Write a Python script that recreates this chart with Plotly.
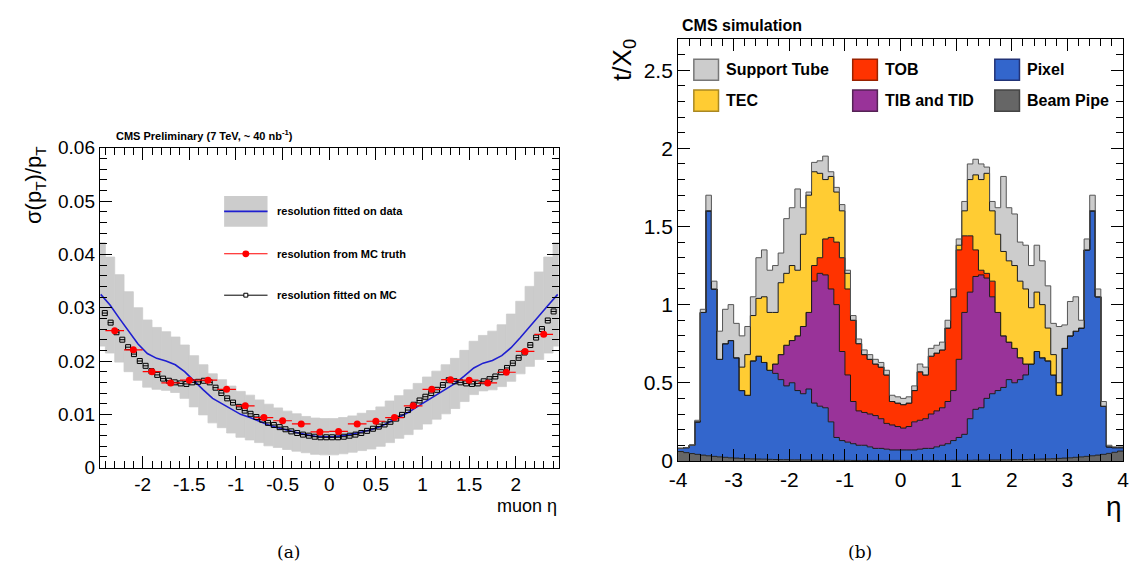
import numpy as np
import plotly.graph_objects as go

W, H = 1135, 575
FONT = "Liberation Sans, Arial, Helvetica, sans-serif"
SERIF = "DejaVu Serif, Liberation Serif, serif"

# ======================= Panel (a): muon pT resolution =======================
band_centers = np.round(np.arange(-2.45, 2.451, 0.1), 2)          # 50 bins of 0.1
fit_data = [0.0325, 0.0305, 0.0280, 0.0255, 0.0232, 0.0214, 0.0205, 0.0200, 0.0193, 0.0180,
            0.0162, 0.0146, 0.0130, 0.0120, 0.0109, 0.0100, 0.0094, 0.0087, 0.0080, 0.0075,
            0.0070, 0.0066, 0.0062, 0.0059, 0.0058,
            0.0058, 0.0060, 0.0063, 0.0067, 0.0071, 0.0077, 0.0086, 0.0095, 0.0104, 0.0115,
            0.0126, 0.0136, 0.0147, 0.0158, 0.0172, 0.0187, 0.0196, 0.0201, 0.0210, 0.0225,
            0.0244, 0.0265, 0.0285, 0.0305, 0.0325]
band_lo = [0.0228, 0.0215, 0.0198, 0.0180, 0.0164, 0.0151, 0.0147, 0.0145, 0.0141, 0.0130,
           0.0114, 0.0099, 0.0084, 0.0075, 0.0065, 0.0057, 0.0052, 0.0047, 0.0041, 0.0038,
           0.0034, 0.0031, 0.0028, 0.0025, 0.0024,
           0.0024, 0.0026, 0.0029, 0.0032, 0.0035, 0.0040, 0.0047, 0.0055, 0.0062, 0.0072,
           0.0082, 0.0091, 0.0101, 0.0111, 0.0124, 0.0137, 0.0144, 0.0146, 0.0152, 0.0162,
           0.0176, 0.0190, 0.0203, 0.0215, 0.0228]
band_hi = [0.0422, 0.0395, 0.0362, 0.0330, 0.0300, 0.0277, 0.0263, 0.0255, 0.0245, 0.0230,
           0.0210, 0.0193, 0.0176, 0.0165, 0.0153, 0.0143, 0.0136, 0.0127, 0.0119, 0.0112,
           0.0106, 0.0101, 0.0096, 0.0093, 0.0092,
           0.0092, 0.0094, 0.0097, 0.0102, 0.0107, 0.0114, 0.0125, 0.0135, 0.0146, 0.0158,
           0.0170, 0.0181, 0.0193, 0.0205, 0.0220, 0.0237, 0.0248, 0.0256, 0.0268, 0.0288,
           0.0312, 0.0340, 0.0367, 0.0395, 0.0422]

mc_truth_eta = [-2.3, -2.1, -1.9, -1.7, -1.5, -1.3, -1.1, -0.9, -0.7, -0.5, -0.3, -0.1,
                0.1, 0.3, 0.5, 0.7, 0.9, 1.1, 1.3, 1.5, 1.7, 1.9, 2.1, 2.3]
mc_truth = [0.0257, 0.0221, 0.0180, 0.0159, 0.0164, 0.0164, 0.0147, 0.0116, 0.0094, 0.0088, 0.0082, 0.0067,
            0.0068, 0.0082, 0.0087, 0.0094, 0.0116, 0.0147, 0.0165, 0.0164, 0.0159, 0.0179, 0.0218, 0.0250]
mc_truth_xerr = 0.1

mc_fit_eta = np.arange(-2.40625, 2.41, 0.0625)                        # 78 points
mc_fit = [0.0290, 0.0272, 0.0254, 0.0240, 0.0226, 0.0213, 0.0200, 0.0191, 0.0181, 0.0174,
          0.0167, 0.0163, 0.0160, 0.0158, 0.0157, 0.0160, 0.0161, 0.0163, 0.0160, 0.0150,
          0.0140, 0.0130, 0.0122, 0.0114, 0.0107, 0.0101, 0.0095, 0.0090, 0.0084, 0.0080,
          0.0076, 0.0072, 0.0068, 0.0065, 0.0062, 0.0060, 0.0058, 0.0057, 0.0057,
          0.0057, 0.0057, 0.0058, 0.0060, 0.0062, 0.0065, 0.0069, 0.0073, 0.0077, 0.0081,
          0.0086, 0.0092, 0.0099, 0.0108, 0.0118, 0.0126, 0.0133, 0.0140, 0.0146, 0.0155,
          0.0164, 0.0162, 0.0160, 0.0158, 0.0157, 0.0158, 0.0162, 0.0166, 0.0171, 0.0179,
          0.0187, 0.0196, 0.0206, 0.0216, 0.0230, 0.0244, 0.0260, 0.0276, 0.0293]

a_xticks = [-2, -1.5, -1, -0.5, 0, 0.5, 1, 1.5, 2]
a_xticklabels = ["-2", "-1.5", "-1", "-0.5", "0", "0.5", "1", "1.5", "2"]
a_yticks = [0, 0.01, 0.02, 0.03, 0.04, 0.05, 0.06]
a_yticklabels = ["0", "0.01", "0.02", "0.03", "0.04", "0.05", "0.06"]

# ======================= Panel (b): material budget t/X0 =======================
# stacked (cumulative) level of each material, bins of 0.1 in eta from -4 to 4
eta_edges = np.round(np.linspace(-4.0, 4.0, 81), 2)
cum_beam_pipe = [0.060, 0.053, 0.047, 0.042, 0.037, 0.033, 0.029, 0.026, 0.023, 0.020,
                 0.018, 0.016, 0.014, 0.013, 0.012, 0.011, 0.010, 0.009, 0.008, 0.008,
                 0.007, 0.007, 0.006, 0.006, 0.005, 0.005, 0.005, 0.004, 0.004, 0.004,
                 0.004, 0.003, 0.003, 0.003, 0.003, 0.003, 0.003, 0.003, 0.003, 0.003,
                 0.003, 0.003, 0.003, 0.003, 0.003, 0.003, 0.003, 0.003, 0.003, 0.004,
                 0.004, 0.004, 0.004, 0.005, 0.005, 0.005, 0.006, 0.006, 0.007, 0.007,
                 0.008, 0.008, 0.009, 0.010, 0.011, 0.012, 0.013, 0.014, 0.016, 0.018,
                 0.020, 0.023, 0.026, 0.029, 0.033, 0.037, 0.042, 0.048, 0.055, 0.063]
cum_pixel = [0.080, 0.085, 0.100, 0.250, 0.950, 1.600, 1.100, 0.650, 0.750, 0.770,
             0.660, 0.450, 0.420, 0.640, 0.670, 0.630, 0.580, 0.560, 0.520, 0.480,
             0.500, 0.450, 0.430, 0.460, 0.370, 0.350, 0.340, 0.250, 0.150, 0.130,
             0.120, 0.110, 0.100, 0.100, 0.090, 0.080, 0.080, 0.075, 0.070, 0.070,
             0.070, 0.070, 0.070, 0.075, 0.080, 0.080, 0.090, 0.100, 0.110, 0.130,
             0.150, 0.170, 0.270, 0.330, 0.340, 0.400, 0.430, 0.450, 0.470, 0.520,
             0.500, 0.520, 0.550, 0.620, 0.700, 0.660, 0.640, 0.550, 0.420, 0.720,
             0.800, 0.830, 0.850, 1.350, 1.600, 1.050, 0.350, 0.090, 0.085, 0.085]
cum_tib_tid = [0.080, 0.085, 0.100, 0.250, 0.950, 1.600, 1.100, 0.650, 0.750, 0.770,
               0.660, 0.450, 0.420, 0.640, 0.670, 0.630, 0.580, 0.620, 0.680, 0.740,
               0.770, 0.800, 0.860, 0.950, 1.150, 1.200, 1.190, 1.100, 1.000, 0.700,
               0.550, 0.380, 0.320, 0.310, 0.300, 0.290, 0.270, 0.240, 0.230, 0.220,
               0.210, 0.220, 0.250, 0.260, 0.270, 0.300, 0.320, 0.340, 0.380, 0.450,
               0.650, 0.950, 1.080, 1.180, 1.190, 1.170, 1.050, 0.950, 0.800, 0.760,
               0.720, 0.660, 0.620, 0.620, 0.700, 0.660, 0.640, 0.550, 0.420, 0.720,
               0.800, 0.830, 0.850, 1.350, 1.600, 1.050, 0.350, 0.090, 0.085, 0.085]
cum_tob = [0.080, 0.085, 0.100, 0.250, 0.950, 1.600, 1.100, 0.650, 0.750, 0.770,
           0.660, 0.450, 0.420, 0.640, 0.670, 0.630, 0.580, 0.620, 0.680, 0.740,
           0.770, 0.800, 0.860, 0.950, 1.250, 1.300, 1.420, 1.430, 1.400, 1.300,
           1.100, 0.900, 0.750, 0.680, 0.650, 0.620, 0.600, 0.550, 0.380, 0.370,
           0.360, 0.370, 0.450, 0.570, 0.550, 0.670, 0.690, 0.710, 0.850, 1.050,
           1.350, 1.440, 1.440, 1.350, 1.220, 1.200, 1.150, 0.950, 0.800, 0.760,
           0.720, 0.660, 0.620, 0.620, 0.700, 0.660, 0.640, 0.550, 0.420, 0.720,
           0.800, 0.830, 0.850, 1.350, 1.600, 1.050, 0.350, 0.090, 0.085, 0.085]
cum_tec = [0.080, 0.085, 0.100, 0.250, 0.950, 1.600, 1.100, 0.650, 0.750, 0.770,
           0.660, 0.600, 0.680, 0.930, 1.040, 1.050, 0.950, 0.950, 1.140, 1.200,
           1.250, 1.220, 1.450, 1.700, 1.850, 1.840, 1.800, 1.820, 1.720, 1.600,
           1.200, 0.900, 0.750, 0.680, 0.650, 0.620, 0.600, 0.550, 0.380, 0.370,
           0.360, 0.370, 0.450, 0.570, 0.550, 0.670, 0.690, 0.710, 0.850, 1.050,
           1.380, 1.600, 1.800, 1.830, 1.800, 1.840, 1.600, 1.450, 1.340, 1.280,
           1.250, 1.150, 1.100, 0.980, 1.080, 1.000, 0.850, 0.680, 0.500, 0.720,
           0.800, 0.830, 0.850, 1.350, 1.600, 1.050, 0.350, 0.090, 0.085, 0.085]
cum_support_tube = [0.080, 0.085, 0.100, 0.260, 0.970, 1.700, 1.150, 0.830, 0.970, 1.000,
                    0.880, 0.800, 0.860, 1.050, 1.300, 1.350, 1.220, 1.250, 1.330, 1.550,
                    1.620, 1.740, 1.620, 1.720, 1.910, 1.920, 1.950, 1.850, 1.750, 1.640,
                    1.220, 0.930, 0.780, 0.710, 0.680, 0.650, 0.630, 0.580, 0.420, 0.410,
                    0.400, 0.410, 0.480, 0.620, 0.600, 0.720, 0.740, 0.760, 0.900, 1.100,
                    1.420, 1.660, 1.900, 1.930, 1.900, 1.880, 1.660, 1.620, 1.820, 1.620,
                    1.580, 1.400, 1.380, 1.250, 1.380, 1.280, 1.120, 0.880, 0.860, 0.870,
                    1.020, 1.050, 0.900, 1.420, 1.700, 1.100, 0.380, 0.100, 0.090, 0.090]

b_xticks = [-4, -3, -2, -1, 0, 1, 2, 3, 4]
b_xticklabels = ["-4", "-3", "-2", "-1", "0", "1", "2", "3", "4"]
b_yticks = [0, 0.5, 1, 1.5, 2, 2.5]
b_yticklabels = ["0", "0.5", "1", "1.5", "2", "2.5"]

materials = ["Beam Pipe", "Pixel", "TIB and TID", "TOB", "TEC", "Support Tube"]
levels = [cum_beam_pipe, cum_pixel, cum_tib_tid, cum_tob, cum_tec, cum_support_tube]
fill_colors = ["#666666", "#3366cc", "#993399", "#ff3300", "#ffcc33", "#cccccc"]
edge_colors = ["#222222", "#1a1a1a", "#1a1a1a", "#1a1a1a", "#1a1a1a", "#555555"]


def px(x):
    return x / W


def py(y):
    return 1 - y / H


fig = go.Figure()

# ---- panel (b) stacked histograms ----
for i, (name, lev) in enumerate(zip(materials, levels)):
    yy = list(lev) + [lev[-1]]
    fig.add_trace(go.Scatter(
        x=eta_edges, y=yy, mode="lines", line=dict(shape="hv", color=edge_colors[i], width=1),
        fill="tozeroy" if i == 0 else "tonexty", fillcolor=fill_colors[i],
        name=name, showlegend=False, xaxis="x2", yaxis="y2", hoverinfo="skip"))

# ---- panel (a) ----
fig.add_trace(go.Bar(
    x=band_centers, y=np.array(band_hi) - np.array(band_lo), base=band_lo, width=0.1,
    marker=dict(color="#cccccc", line=dict(width=0.8, color="#cccccc")), showlegend=False,
    xaxis="x", yaxis="y", name="band"))
fig.add_trace(go.Scatter(
    x=band_centers, y=fit_data, mode="lines", line=dict(color="#1f1fd0", width=1.6),
    showlegend=False, xaxis="x", yaxis="y", name="resolution fitted on data"))
fig.add_trace(go.Scatter(
    x=mc_fit_eta, y=mc_fit, mode="markers",
    marker=dict(symbol="square-open", size=5, color="black", line=dict(width=1)),
    error_x=dict(type="constant", value=0.03, width=0, thickness=1, color="black"),
    showlegend=False, xaxis="x", yaxis="y", name="resolution fitted on MC"))
fig.add_trace(go.Scatter(
    x=mc_truth_eta, y=mc_truth, mode="markers",
    marker=dict(symbol="circle", size=7, color="#ff0000"),
    error_x=dict(type="constant", value=mc_truth_xerr, width=0, thickness=1.2, color="#ff0000"),
    showlegend=False, xaxis="x", yaxis="y", name="resolution from MC truth"))

axis_common = dict(showgrid=False, zeroline=False, showline=True, linecolor="black", linewidth=1,
                   mirror="ticks", ticks="inside", tickcolor="black", ticklen=12, tickwidth=1,
                   ticklabeloverflow="allow",
                   tickfont=dict(family=FONT, size=19, color="black"))

fig.update_layout(
    margin=dict(l=0, r=0, t=0, b=0), autosize=True,
    paper_bgcolor="white", plot_bgcolor="white", barmode="overlay", showlegend=False,
    xaxis=dict(domain=[px(92), px(557)], range=[-2.46, 2.46], anchor="y",
               tickvals=a_xticks, ticktext=a_xticklabels,
               minor=dict(dtick=0.1, ticks="inside", ticklen=7, tickcolor="black"), **axis_common),
    yaxis=dict(domain=[py(475), py(143)], range=[0, 0.06], anchor="x",
               tickvals=a_yticks, ticktext=a_yticklabels,
               minor=dict(dtick=0.002, ticks="inside", ticklen=7, tickcolor="black"), **axis_common),
    xaxis2=dict(domain=[px(678), px(1129)], range=[-4, 4], anchor="y2",
                tickvals=b_xticks, ticktext=b_xticklabels,
                minor=dict(dtick=0.2, ticks="inside", ticklen=7, tickcolor="black"), **axis_common),
    yaxis2=dict(domain=[py(468), py(30)], range=[0, 2.7], anchor="x2",
                tickvals=b_yticks, ticktext=b_yticklabels,
                minor=dict(dtick=0.1, ticks="inside", ticklen=7, tickcolor="black"), **axis_common),
)
fig.update_layout(xaxis2_tickfont_size=21, yaxis2_tickfont_size=21)

ann = []
shapes = []


def text(x, y, s, size, xanchor="left", bold=False, angle=0, family=FONT):
    ann.append(dict(x=px(x), y=py(y), xref="paper", yref="paper", text=("<b>%s</b>" % s) if bold else s,
                    showarrow=False, xanchor=xanchor, yanchor="middle", textangle=angle,
                    font=dict(family=family, size=size, color="black")))


# panel (a) texts
text(106, 130, "CMS Preliminary (7 TeV, ~ 40 nb<sup>-1</sup>)", 11, bold=True)
text(27, 182, "σ(p<sub>T</sub>)/p<sub>T</sub>", 22, xanchor="center", angle=-90)
text(557, 515, "muon η", 18, xanchor="right")
text(283, 563, "(a)", 17, xanchor="center", family=SERIF)

# panel (a) legend
shapes.append(dict(type="rect", xref="paper", yref="paper", x0=px(218), x1=px(262), y0=py(225), y1=py(193),
                   fillcolor="#cccccc", line=dict(width=0)))
shapes.append(dict(type="line", xref="paper", yref="paper", x0=px(218), x1=px(262), y0=py(209), y1=py(209),
                   line=dict(color="#1f1fd0", width=1.6)))
shapes.append(dict(type="line", xref="paper", yref="paper", x0=px(218), x1=px(262), y0=py(253), y1=py(253),
                   line=dict(color="#ff0000", width=1.2)))
shapes.append(dict(type="circle", xref="paper", yref="paper", x0=px(236.5), x1=px(243.5), y0=py(256.5),
                   y1=py(249.5), fillcolor="#ff0000", line=dict(color="#ff0000", width=0)))
shapes.append(dict(type="line", xref="paper", yref="paper", x0=px(218), x1=px(262), y0=py(296), y1=py(296),
                   line=dict(color="black", width=1)))
shapes.append(dict(type="rect", xref="paper", yref="paper", x0=px(238), x1=px(242), y0=py(298), y1=py(294),
                   fillcolor="white", line=dict(color="black", width=1)))
text(270, 209, "resolution fitted on data", 11, bold=True)
text(270, 253, "resolution from MC truth", 11, bold=True)
text(270, 296, "resolution fitted on MC", 11, bold=True)

# panel (b) texts
text(680, 16, "CMS simulation", 16, bold=True)
text(622, 52, "t/X<sub>0</sub>", 26, xanchor="center", angle=-90)
text(1120, 515, "η", 28, xanchor="center")
text(862, 563, "(b)", 17, xanchor="center", family=SERIF)

# panel (b) legend
leg_entries = [("Support Tube", 694, 62, "#cccccc", "#777777"),
               ("TOB", 855, 62, "#ff3300", "#992200"),
               ("Pixel", 999, 62, "#3366cc", "#223377"),
               ("TEC", 694, 94, "#ffcc33", "#aa8822"),
               ("TIB and TID", 855, 94, "#993399", "#552255"),
               ("Beam Pipe", 999, 94, "#666666", "#444444")]
for name, x0, yc, fc, lc in leg_entries:
    shapes.append(dict(type="rect", xref="paper", yref="paper", x0=px(x0), x1=px(x0 + 25),
                       y0=py(yc + 11), y1=py(yc - 11), fillcolor=fc, line=dict(color=lc, width=1.5)))
    text(x0 + 31, yc, name, 16, bold=True)

fig.update_layout(annotations=ann, shapes=shapes)

# the figure div is pinned to the top-left corner of the 1135x575 window
fig.write_html("out.html", config={"displayModeBar": False, "responsive": False},
               default_width="%dpx" % W,
               default_height="%dpx; position:fixed; left:0px; top:0px; margin:0px" % H,
               post_script="document.body.style.margin='0px';document.body.style.overflow='hidden';")
